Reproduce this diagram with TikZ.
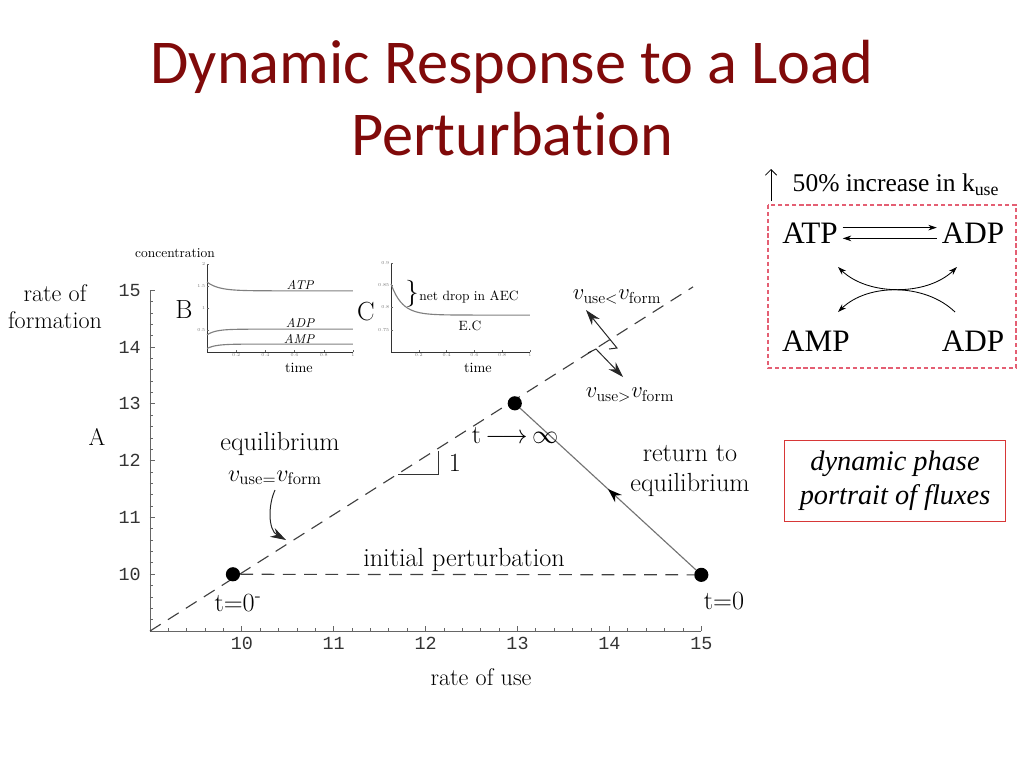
\RequirePackage{fix-cm}
\documentclass[tikz,border=0pt]{standalone}
\usepackage{fontspec}
\usetikzlibrary{arrows.meta,decorations.markings,positioning}

\newfontfamily\slidefont{Carlito}[Ligatures=NoCommon]
\newfontfamily\timesfont{Liberation Serif}
\newfontfamily\tickfont{Liberation Mono}

\definecolor{titlered}{RGB}{128,10,10}
\definecolor{boxred}{RGB}{228,95,115}
\definecolor{framered}{RGB}{215,55,55}

\tikzset{
  slidetitle/.style={anchor=base, text=titlered, font=\slidefont\fontsize{44}{51}\selectfont},
  axis/.style={black!60, line width=0.6pt},
  ticklbl/.style={text=black!80, font=\tickfont\fontsize{13}{13}\selectfont},
  tinylbl/.style={text=black!55, font=\fontsize{3.2}{4}\selectfont, inner sep=1pt},
  axlbl/.style={font=\fontsize{17}{19}\selectfont, align=center},
  lbl/.style={font=\fontsize{18.5}{21}\selectfont, align=center},
  mathlbl/.style={font=\fontsize{16}{18}\selectfont},
  insetlbl/.style={font=\fontsize{9.5}{11}\selectfont},
  guide/.style={black!75, line width=0.8pt, dash pattern=on 9pt off 6pt},
  dot/.style={circle, fill=black, inner sep=0pt, minimum size=10pt},
  traj/.style={black!55, line width=0.8pt, postaction={decorate},
    decoration={markings, mark=at position 0.5 with {\arrow[black]{Stealth[length=10pt,width=7pt]}}}},
  pointer/.style={black!85, line width=0.7pt, -{Stealth[length=11pt,width=7pt]}},
  conc/.style={black!50, line width=0.8pt},
  chem/.style={font=\timesfont\fontsize{22}{26}\selectfont},
  rxn/.style={line width=0.6pt, -{Stealth[length=6pt,width=4pt]}},
}

\begin{document}
\begin{tikzpicture}[x=0.7057pt, y=-0.7057pt]
\useasboundingbox (0,0) rectangle (1024,768);

% title
\node[slidetitle] at (512,83) {Dynamic Response to a Load};
\node[slidetitle] at (512,155) {Perturbation};

% main phase portrait, in data units
\begin{scope}[shift={(-677.1,1142.2)}, x=64.85pt, y=40.08pt]
  \draw[axis] (9,15) -- (9,9) -- (15,9);
  \foreach \v in {10,...,15} {
    \draw[axis] (9,\v) -- ++(3.5pt,0);
    \draw[axis] (\v,9) -- ++(0,3.5pt);
    \node[ticklbl, left=3pt] at (9,\v) {\v};
    \node[ticklbl, below=1pt] at (\v,9) {\v};
  }
  \foreach \v in {9.2,9.4,...,14.8} {
    \draw[axis] (9,\v) -- ++(2pt,0);
    \draw[axis] (\v,9) -- ++(0,2pt);
  }
  \coordinate (orig) at (9,9);
  \coordinate (diagend) at (14.91,15.06);
  \draw[guide] (orig) -- (diagend);
  \node[dot] (pminus) at (9.903,10) {};
  \node[dot] (pzero) at (15,9.99) {};
  \node[dot] (pinf) at (12.97,13.01) {};
  \draw[guide] (pminus) -- (pzero);
  \draw[traj] (pzero) -- (pinf);
\end{scope}

% axis labels
\node[axlbl] (xlab) at (481,677) {rate of use};
\node[axlbl] (ylab) at (55,307) {rate of\\formation};
\node[axlbl] at (97,437) {A};

% labels in the portrait
\node[lbl] (eqlab) at (280,444) {equilibrium};
\node[lbl, font=\fontsize{17}{19}\selectfont] (veq) at (275,478) {$v_{\mathrm{use}=}v_{\mathrm{form}}$};
\draw[pointer] (veq.south) .. controls (268,505) and (268,530) .. (286,540);
\draw[black!80, line width=0.6pt] (398,474) -- (438,474) -- (438,451);
\node[lbl] at (455,463) {1};
\node[lbl] at (515,436) {t\,$\longrightarrow$\,$\infty$};
\node[lbl] at (464,560) {initial perturbation};
\node[lbl] at (238,603) {t=0\textsuperscript{-}};
\node[lbl] at (724,601) {t=0};
\node[lbl] at (690,471) {return to\\equilibrium};
\node[mathlbl] (vless) at (617,297) {$v_{\mathrm{use}<}v_{\mathrm{form}}$};
\node[mathlbl] (vmore) at (630,395) {$v_{\mathrm{use}>}v_{\mathrm{form}}$};
\draw[pointer] (609,349) -- (617,348) -- (586,310);
\draw[pointer] (588,353) -- (596,349) -- (623,377);

% inset B
\begin{scope}[shift={(207,352)}, x=103pt, y=31.05pt]
  \draw[black!80, line width=0.5pt] (0,2) -- (0,0) -- (1,0);
  \foreach \v in {0.5,1,1.5,2} {
    \draw[black!60, line width=0.3pt] (0,\v) -- ++(1.5pt,0);
    \node[tinylbl, left] at (0,\v) {\v};
  }
  \foreach \v in {0.2,0.4,0.6,0.8,1} {
    \draw[black!60, line width=0.3pt] (\v,0) -- ++(0,1.5pt);
    \node[tinylbl, below] at (\v,0) {\v};
  }
  \draw[conc] plot[domain=0:1, samples=60] (\x,{1.39+0.2*exp(-\x/0.08)});
  \draw[conc] plot[domain=0:1, samples=60] (\x,{0.52-0.13*exp(-\x/0.06)});
  \draw[conc] plot[domain=0:1, samples=60] (\x,{0.18-0.1*exp(-\x/0.06)});
\end{scope}
\node[insetlbl] at (175,253) {concentration};
\node[lbl] at (184,310) {B};
\node[insetlbl, font=\itshape\fontsize{9}{11}\selectfont] at (300,285) {ATP};
\node[insetlbl, font=\itshape\fontsize{9}{11}\selectfont] at (300,323) {ADP};
\node[insetlbl, font=\itshape\fontsize{9}{11}\selectfont] at (299,339) {AMP};
\node[insetlbl, font=\fontsize{10}{12}\selectfont] at (299,368) {time};

% inset C
\begin{scope}[shift={(391,352)}, x=98.1pt, y=314pt]
  \draw[black!80, line width=0.5pt] (0,0.2) -- (0,0) -- (1,0);
  \foreach \v/\t in {0.05/0.75,0.1/0.8,0.15/0.85,0.2/0.9} {
    \draw[black!60, line width=0.3pt] (0,\v) -- ++(1.5pt,0);
    \node[tinylbl, left] at (0,\v) {\t};
  }
  \foreach \v in {0.2,0.4,0.6,0.8,1} {
    \draw[black!60, line width=0.3pt] (\v,0) -- ++(0,1.5pt);
    \node[tinylbl, below] at (\v,0) {\v};
  }
  \draw[conc] plot[domain=0:1, samples=60] (\x,{0.083+0.07*exp(-\x/0.08)});
\end{scope}
\node[lbl] at (366,312) {C};
\node[font=\fontsize{19}{19}\selectfont] at (412,294) {\}};
\node[insetlbl] at (469,297) {net drop in AEC};
\node[insetlbl] at (470,326) {E.C};
\node[insetlbl, font=\fontsize{10}{12}\selectfont] at (478,368) {time};

% load step and adenylate reactions
\node[font=\timesfont\fontsize{18}{20}\selectfont] (kup) at (896,185) {50\% increase in k\textsubscript{use}};
\coordinate (kfoot) at (771,201);
\coordinate (ktip) at (771,169);
\draw[line width=0.6pt, -{Straight Barb[length=4pt]}] (kfoot) -- (ktip);
\draw[boxred, line width=0.8pt, dash pattern=on 3pt off 2pt] (768,205) rectangle (1016,368);
\node[chem] (atp) at (810,233) {ATP};
\node[chem] (adpa) at (973,233) {ADP};
\node[chem] (amp) at (816,341) {AMP};
\node[chem] (adpb) at (973,341) {ADP};
\draw[rxn] ([yshift=3.8pt]atp.east) -- ([yshift=3.8pt]adpa.west);
\draw[rxn] ([yshift=-3.8pt]adpa.west) -- ([yshift=-3.8pt]atp.east);
\coordinate (ul) at (838,267);
\coordinate (ur) at (957,267);
\coordinate (ll) at (838,312);
\coordinate (lr) at (955,312);
\draw[rxn, {Stealth[length=6pt,width=4pt]}-{Stealth[length=6pt,width=4pt]}] (ul) .. controls (868,296) and (927,296) .. (ur);
\draw[rxn] (lr) .. controls (925,283) and (868,283) .. (ll);

% caption box
\node[draw=framered, line width=0.7pt, align=center, minimum width=156pt, minimum height=56.5pt,
  font=\timesfont\itshape\fontsize{20}{24}\selectfont] (phase) at (895,481) {dynamic phase\\portrait of fluxes};
\end{tikzpicture}
\end{document}
